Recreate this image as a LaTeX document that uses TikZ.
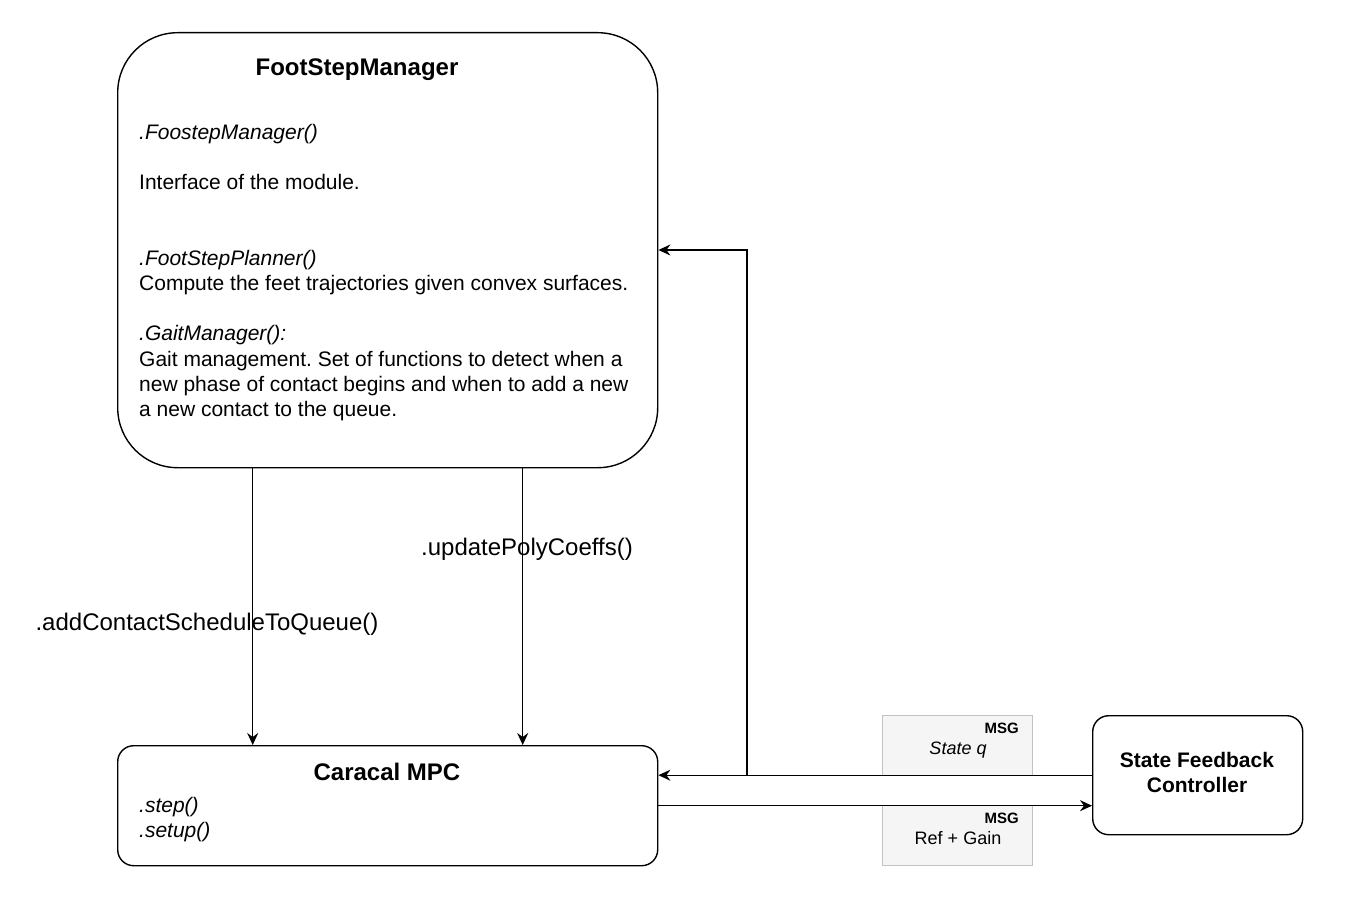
\documentclass[tikz,border=0pt]{standalone}
\usepackage{fontspec}
\setmainfont{Liberation Sans}
\usepackage{xcolor}
\usetikzlibrary{arrows.meta}
\frenchspacing

\definecolor{msgfill}{HTML}{F5F5F5}
\definecolor{msgline}{HTML}{C2C2C2}

\begin{document}
\begin{tikzpicture}[x=1pt,y=-1pt,
        block/.style={draw,line width=1.4pt,anchor=north west,inner sep=0pt},
        msgbox/.style={draw=msgline,fill=msgfill,line width=1.3pt,anchor=north west,
            minimum width=150pt,minimum height=60pt,inner sep=0pt},
        arr/.style={line width=1.4pt,-{Stealth[length=12pt,width=11pt,inset=4pt]}},
        body/.style={font=\fontsize{21}{25.2}\selectfont,inner sep=0pt},
        callname/.style={font=\fontsize{24}{28}\selectfont,inner sep=0pt,anchor=base}]
                \useasboundingbox (0,0) rectangle (1356,909);

                % boxes
                \node[block,rounded corners=60pt,minimum width=540pt,minimum height=435pt] (fsm) at (117,32) {};
                \node[block,rounded corners=16pt,minimum width=540pt,minimum height=120pt] (mpc) at (117,745) {};
                \node[block,rounded corners=16pt,minimum width=210pt,minimum height=119pt] (sfc) at (1092,715) {};
                \node[body,font=\fontsize{21}{25.2}\selectfont\bfseries,align=center] (sfctxt) at (1197,772.5) {State Feedback\\Controller};

                % messages
                \node[msgbox] (msgq) at (882,715) {};
                \node[msgbox] (msgref) at (882,805) {};
                \node[inner sep=0pt,anchor=base east,font=\fontsize{15}{18}\selectfont\bfseries] (msgqa) at (1019,733.5) {MSG};
                \node[inner sep=0pt,anchor=base,font=\fontsize{18}{21.6}\selectfont\itshape] (msgqb) at (958,754.5) {State q};
                \node[inner sep=0pt,anchor=base east,font=\fontsize{15}{18}\selectfont\bfseries] (msgrefa) at (1019,823.5) {MSG};
                \node[inner sep=0pt,anchor=base,font=\fontsize{18}{21.6}\selectfont] (msgrefb) at (958,844.5) {Ref + Gain};

                % FootStepManager text
                \node[inner sep=0pt,anchor=base,font=\fontsize{24}{28}\selectfont\bfseries] (fsmtitle) at (357,75.5) {FootStepManager};
                \node[body,anchor=base west,align=left] (fsmbody) at (139,416.5) {%
                    \textit{.FoostepManager()}\\
                    \mbox{}\\
                    Interface of the module.\\
                    \mbox{}\\
                    \mbox{}\\
                    \textit{.FootStepPlanner()}\\
                    Compute the feet trajectories given convex surfaces.\\
                    \mbox{}\\
                    \textit{.GaitManager():}\\
                    Gait management. Set of functions to detect when a\\
                    new phase of contact begins and when to add a new\\
                    a new contact to the queue.};

                % Caracal MPC text
                \node[inner sep=0pt,anchor=base,font=\fontsize{24}{28}\selectfont\bfseries] (mpctitle) at (387,780.5) {Caracal MPC};
                \node[body,anchor=base west,align=left,font=\fontsize{21}{25.2}\selectfont\itshape] (mpcbody) at (139,837.5) {.step()\\.setup()};

                % connectors
                \coordinate (turn) at (747,250);
                \draw[arr] ([xshift=-135pt]fsm.south) -- ([xshift=-135pt]mpc.north);
                \draw[arr] ([xshift=135pt]fsm.south) -- ([xshift=135pt]mpc.north);
                \draw[arr] (sfc.west) -- (sfc.west -| mpc.east);
                \draw[arr] (sfc.west) -| (turn) -- (turn -| fsm.east);
                \draw[arr] (mpc.east) -- (mpc.east -| sfc.west);

                \node[callname] (lblpoly) at (527,555) {.updatePolyCoeffs()};
                \node[callname] (lblqueue) at (207,630) {.addContactScheduleToQueue()};
            \end{tikzpicture}
\end{document}
